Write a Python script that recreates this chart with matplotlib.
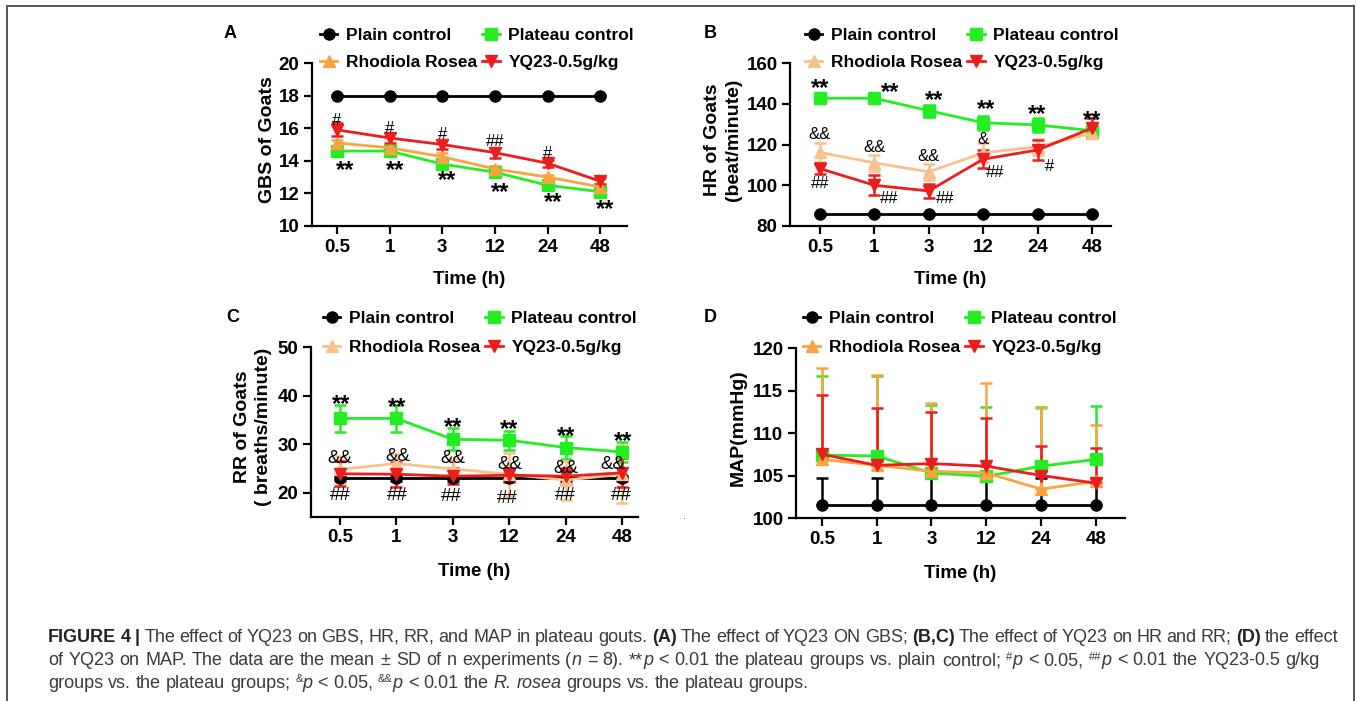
import numpy as np
import matplotlib.pyplot as plt
from matplotlib.lines import Line2D
from matplotlib.patches import Rectangle

W, H = 1357, 701
plt.rcParams['font.family'] = 'Liberation Sans'

TIMES = ["0.5", "1", "3", "12", "24", "48"]
LABELS = ["Plain control", "Plateau control", "Rhodiola Rosea", "YQ23-0.5g/kg"]

# GBS (panel A)
gbs_plain = [18, 18, 18, 18, 18, 18]
gbs_plateau = [14.6, 14.6, 13.8, 13.3, 12.5, 12.1]
gbs_rhod = [15.1, 14.8, 14.25, 13.5, 13.0, 12.4]
gbs_yq = [15.9, 15.4, 15.0, 14.5, 13.85, 12.75]
gbs_plain_sd = [0.05, 0.05, 0.05, 0.05, 0.05, 0.05]
gbs_plateau_sd = [0.15, 0.15, 0.15, 0.2, 0.2, 0.15]
gbs_rhod_sd = [0.2, 0.2, 0.2, 0.2, 0.15, 0.15]
gbs_yq_sd = [0.4, 0.3, 0.3, 0.3, 0.2, 0.2]

# HR (panel B)
hr_plain = [86, 86, 86, 86, 86, 86]
hr_plateau = [142.7, 142.7, 136.6, 130.7, 129.6, 126.8]
hr_rhod = [116.1, 111.0, 106.6, 115.9, 118.9, 125.5]
hr_yq = [108.2, 100.0, 97.2, 112.8, 117.3, 128.0]
hr_plain_sd = [0.5, 0.5, 0.5, 0.5, 0.5, 0.5]
hr_plateau_sd = [2.5, 2.5, 3.0, 3.5, 3.5, 2.0]
hr_rhod_sd = [4.5, 4.0, 4.0, 4.6, 4.0, 2.0]
hr_yq_sd = [2.5, 5.0, 3.5, 4.5, 5.0, 5.0]

# RR (panel C)
rr_plain = [23, 23, 23, 23, 23, 23]
rr_plateau = [35.3, 35.3, 31.0, 30.8, 29.3, 28.4]
rr_rhod = [24.8, 26.0, 24.9, 23.8, 22.6, 23.8]
rr_yq = [23.9, 23.8, 23.4, 23.6, 23.4, 24.1]
rr_plain_sd = [0.5, 0.5, 0.5, 0.5, 0.5, 0.5]
rr_plateau_sd = [2.7, 2.7, 2.3, 2.0, 2.3, 2.0]
rr_rhod_sd = [2.7, 2.0, 2.0, 4.4, 4.0, 6.0]
rr_yq_sd = [2.6, 2.6, 1.6, 1.4, 1.6, 3.0]

# MAP (panel D), upper SD only
map_plain = [101.5, 101.5, 101.5, 101.5, 101.5, 101.5]
map_plateau = [107.4, 107.3, 105.3, 104.9, 106.1, 106.9]
map_rhod = [106.9, 106.2, 105.5, 105.3, 103.4, 104.3]
map_yq = [107.5, 106.2, 106.4, 106.1, 105.0, 104.1]
map_plain_sd = [3.2, 3.2, 3.2, 3.2, 3.2, 3.2]
map_plateau_sd = [9.3, 9.4, 8.0, 8.2, 7.0, 6.3]
map_rhod_sd = [10.7, 10.6, 8.0, 10.6, 9.5, 6.7]
map_yq_sd = [7.0, 6.7, 6.1, 5.7, 3.5, 4.1]

# significance marks: (text, x index, x shift, y value)
marks_a = [("#", 0, 0, 16.57), ("#", 1, 0, 16.1), ("#", 2, 0, 15.69), ("##", 3, 0, 15.28), ("#", 4, 0, 14.56),
           ("**", 0, 0.15, 13.63), ("**", 1, 0.1, 13.63), ("**", 2, 0.1, 13.02), ("**", 3, 0.1, 12.3),
           ("**", 4, 0.1, 11.68), ("**", 5, 0.1, 11.27)]
marks_b = [("**", 0, 0, 149.3), ("**", 1, 0.29, 147.3), ("**", 2, 0.09, 143.5), ("**", 3, 0.05, 139.4),
           ("**", 4, 0, 136.6), ("**", 5, 0, 134.0),
           ("&&", 0, 0, 125.5), ("&&", 1, 0, 119.4), ("&&", 2, 0, 114.8), ("&", 3, 0, 123.0),
           ("##", 0, 0, 101.7), ("##", 1, 0.28, 94.3), ("##", 2, 0.31, 94.3), ("##", 3, 0.23, 107.1),
           ("#", 4, 0.22, 109.9)]
marks_c = [("**", 0, 0.03, 39.1), ("**", 1, 0.02, 38.3), ("**", 2, 0, 34.3), ("**", 3, 0, 33.9),
           ("**", 4, 0, 32.4), ("**", 5, 0.02, 31.4),
           ("&&", 0, 0, 27.6), ("&&", 1, 0.02, 27.9), ("&&", 2, 0, 27.6), ("&&", 3, 0.01, 26.3),
           ("&&", 4, 0, 25.5), ("&&", 5, -0.16, 26.2),
           ("##", 0, 0, 19.8), ("##", 1, 0.02, 19.8), ("##", 2, -0.02, 19.7), ("##", 3, -0.04, 19.2),
           ("##", 4, 0, 19.8), ("##", 5, -0.01, 19.9)]

BLACK = "black"
GREEN = "#22ee22"
ORANGE = "#f9a440"
TAN = "#f7c28c"
RED = "#ee1c1c"
MARKERS = ["o", "s", "^", "v"]

fig = plt.figure(figsize=(W / 100, H / 100), dpi=100)


def panel_axes(l, r, t, b):
    return fig.add_axes([l / W, 1 - b / H, (r - l) / W, (b - t) / H])


def draw_panel(ax, series, sds, colors, xlim, ylim, yticks, ylabel, ylabel_x, upper_only=False):
    x = np.arange(len(TIMES))
    for vals, sd, c, m in zip(series, sds, colors, MARKERS):
        sd = np.array(sd)
        yerr = [np.zeros_like(sd), sd] if upper_only else sd
        ax.errorbar(x, vals, yerr=yerr, color=c, marker=m, ms=8, lw=2,
                    elinewidth=1.8, capsize=4, capthick=1.8)
    ax.set_xlim(*xlim)
    ax.set_ylim(*ylim)
    ax.set_xticks(x)
    ax.set_xticklabels(TIMES)
    ax.set_yticks(yticks)
    for s in ["top", "right"]:
        ax.spines[s].set_visible(False)
    for s in ["left", "bottom"]:
        ax.spines[s].set_linewidth(1.6)
    ax.tick_params(width=1.6, length=6, labelsize=13.5, pad=3)
    for lab in ax.get_xticklabels() + ax.get_yticklabels():
        lab.set_fontweight("bold")
    ax.set_xlabel("Time (h)", fontsize=13.5, fontweight="bold", va="center")
    ax.set_ylabel(ylabel, fontsize=14, fontweight="bold", va="center", linespacing=1.3)
    ax.yaxis.set_label_coords(ylabel_x, 0.53)


def add_legend(ax, colors, x, y, spacing):
    h = [Line2D([], [], color=c, marker=m, lw=2, ms=8) for c, m in zip(colors, MARKERS)]
    order = [0, 2, 1, 3]
    ax.legend([h[i] for i in order], [LABELS[i] for i in order], ncol=2, loc="upper left",
              bbox_to_anchor=(x / W, 1 - y / H), bbox_transform=fig.transFigure,
              frameon=False, borderpad=0, borderaxespad=0, handlelength=1.0,
              handletextpad=0.5, columnspacing=0.3, labelspacing=spacing,
              prop={"weight": "bold", "size": 12.5})


def add_marks(ax, marks, small=11.5):
    for txt, i, dx, y in marks:
        if "*" in txt:
            fs, w, dy = 17, "bold", -0.45 * 17
        else:
            fs, w, dy = small, "normal", -0.36 * small
        ax.annotate(txt, (i + dx, y), xytext=(0, dy), textcoords="offset points",
                    ha="center", va="baseline", fontsize=fs, fontweight=w, annotation_clip=False)


# panel A
axA = panel_axes(312, 627, 63, 226)
draw_panel(axA, [gbs_plain, gbs_plateau, gbs_rhod, gbs_yq],
           [gbs_plain_sd, gbs_plateau_sd, gbs_rhod_sd, gbs_yq_sd],
           [BLACK, GREEN, ORANGE, RED], (-0.475, 5.51), (10, 20), [10, 12, 14, 16, 18, 20],
           "GBS of Goats", -45 / 315)
axA.xaxis.set_label_coords(0.5, -54 / 163)
add_legend(axA, [BLACK, GREEN, ORANGE, RED], 320, 28, 0.68)
add_marks(axA, marks_a, 12)

# panel B
axB = panel_axes(790, 1111, 63, 226)
draw_panel(axB, [hr_plain, hr_plateau, hr_rhod, hr_yq],
           [hr_plain_sd, hr_plateau_sd, hr_rhod_sd, hr_yq_sd],
           [BLACK, GREEN, TAN, RED], (-0.55, 5.35), (80, 160), [80, 100, 120, 140, 160],
           "HR of Goats\n(beat/minute)", -67 / 321)
axB.xaxis.set_label_coords(0.5, -54 / 163)
add_legend(axB, [BLACK, GREEN, TAN, RED], 805, 28, 0.68)
add_marks(axB, marks_b, 12)

# panel C
axC = panel_axes(311, 638, 347, 517)
draw_panel(axC, [rr_plain, rr_plateau, rr_rhod, rr_yq],
           [rr_plain_sd, rr_plateau_sd, rr_rhod_sd, rr_yq_sd],
           [BLACK, GREEN, TAN, RED], (-0.51, 5.28), (15, 50), [20, 30, 40, 50],
           "RR of Goats\n( breaths/minute)", -58 / 327)
axC.xaxis.set_label_coords(0.5, -54 / 170)
add_legend(axC, [BLACK, GREEN, TAN, RED], 323, 311, 0.8)
add_marks(axC, marks_c, 13.5)

# panel D
axD = panel_axes(796, 1125, 348, 518)
draw_panel(axD, [map_plain, map_plateau, map_rhod, map_yq],
           [map_plain_sd, map_plateau_sd, map_rhod_sd, map_yq_sd],
           [BLACK, GREEN, ORANGE, RED], (-0.47, 5.53), (100, 120), [100, 105, 110, 115, 120],
           "MAP(mmHg)", -58 / 329, upper_only=True)
axD.xaxis.set_label_coords(0.5, -56 / 170)
add_legend(axD, [BLACK, GREEN, ORANGE, RED], 803, 311, 0.8)

# panel letters
for letter, px, py in [("A", 230, 33), ("B", 710, 33), ("C", 233, 318), ("D", 710, 318)]:
    fig.text(px / W, 1 - py / H, letter, fontsize=13, fontweight="bold", ha="center", va="center")

fig.text(685 / W, 1 - 516 / H, ".", fontsize=8, ha="center", va="center", color="#333333")

# border
fig.patches.append(Rectangle((7 / W, -0.05), (1354 - 7) / W, 1.05 - 6 / H, transform=fig.transFigure,
                             fill=False, edgecolor="#555555", lw=1.4))

# caption
renderer = fig.canvas.get_renderer()
CAP = 13.0


def text_width(s, size, weight, style):
    t1 = fig.text(0, 0, "|" + s + "|", fontsize=size, fontweight=weight, fontstyle=style)
    t2 = fig.text(0, 0, "||", fontsize=size, fontweight=weight, fontstyle=style)
    w = t1.get_window_extent(renderer).width - t2.get_window_extent(renderer).width
    t1.remove()
    t2.remove()
    return w


def style_of(code):
    size, weight, style, rise, color = CAP, "normal", "normal", 0, "#3a3a3a"
    if "b" in code:
        weight, color = "bold", "#222222"
    if "i" in code:
        style = "italic"
    if "s" in code:
        size, rise = CAP * 0.62, 5.5
    return size, weight, style, rise, color


def caption_line(y, runs, x0=48, target=None):
    pieces = []
    for txt, code in runs:
        parts = txt.split(" ")
        for k, p in enumerate(parts):
            if k > 0:
                pieces.append((" ", code))
            if p:
                pieces.append((p, code))
    widths = [text_width(p, *style_of(c)[:3]) for p, c in pieces]
    nsp = sum(1 for p, c in pieces if p == " ")
    extra = 0
    if target is not None and nsp:
        extra = (target - x0 - sum(widths)) / nsp
    x = x0
    for (p, c), w in zip(pieces, widths):
        if p == " ":
            x += w + extra
            continue
        size, weight, style, rise, color = style_of(c)
        fig.text(x / W, 1 - (y - rise) / H, p, fontsize=size, fontweight=weight,
                 fontstyle=style, color=color, va="baseline", ha="left")
        x += w


caption_line(642, [("FIGURE 4 |", "b"), (" The effect of YQ23 on GBS, HR, RR, and MAP in plateau gouts. ", ""),
                   ("(A)", "b"), (" The effect of YQ23 ON GBS; ", ""), ("(B,C)", "b"),
                   (" The effect of YQ23 on HR and RR; ", ""), ("(D)", "b"), (" the effect", "")], target=1338)
caption_line(665, [("of YQ23 on MAP. The data are the mean \u00b1 SD of n experiments (", ""), ("n", "i"),
                   (" = 8). **", ""), ("p", "i"), (" < 0.01 the plateau groups vs. plain control; ", ""),
                   ("#", "s"), ("p", "i"), (" < 0.05, ", ""), ("##", "s"), ("p", "i"),
                   (" < 0.01 the YQ23-0.5 g/kg", "")], target=1320)
caption_line(688, [("groups vs. the plateau groups; ", ""), ("&", "s"), ("p", "i"), (" < 0.05, ", ""),
                   ("&&", "s"), ("p", "i"), (" < 0.01 the ", ""), ("R. rosea", "i"),
                   (" groups vs. the plateau groups.", "")])

fig.savefig("out.png", dpi=100)
